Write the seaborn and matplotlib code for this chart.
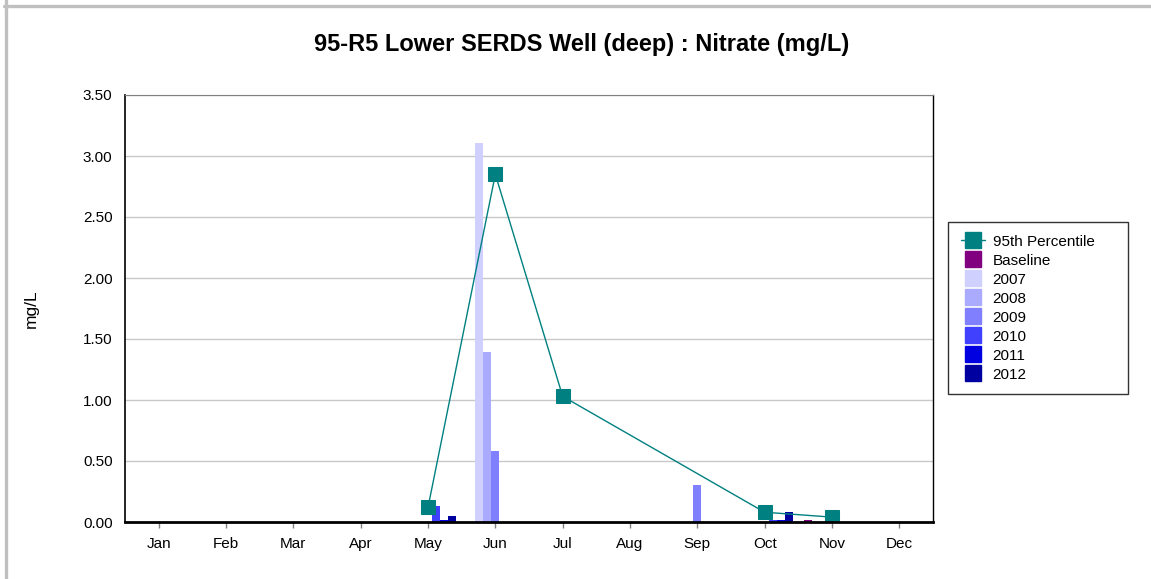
import matplotlib
matplotlib.use("Agg")
import matplotlib.pyplot as plt
from matplotlib.lines import Line2D
import seaborn as sns
import pandas as pd

# ---- data ----
months = ["Jan", "Feb", "Mar", "Apr", "May", "Jun", "Jul", "Aug", "Sep", "Oct", "Nov", "Dec"]
series = ["Baseline", "2007", "2008", "2009", "2010", "2011", "2012"]
series_colors = ["#800080", "#D0D0FF", "#AAAAFF", "#8080FF", "#4040FF", "#0000E0", "#0000A0"]

baseline_months = ["Nov"]
baseline_vals = [0.02]
y2007_months = ["Jun"]
y2007_vals = [3.11]
y2008_months = ["Jun"]
y2008_vals = [1.39]
y2009_months = ["Jun", "Sep"]
y2009_vals = [0.58, 0.30]
y2010_months = ["May", "Oct"]
y2010_vals = [0.13, 0.015]
y2011_months = ["May", "Oct"]
y2011_vals = [0.015, 0.015]
y2012_months = ["May", "Oct"]
y2012_vals = [0.05, 0.08]

p95_months = ["May", "Jun", "Jul", "Oct", "Nov"]
p95_vals = [0.12, 2.85, 1.03, 0.08, 0.04]

title = "95-R5 Lower SERDS Well (deep) : Nitrate (mg/L)"
ylabel = "mg/L"
yticks = [0.0, 0.5, 1.0, 1.5, 2.0, 2.5, 3.0, 3.5]

# ---- build table ----
rows = []
for name, ms, vs in [
    ("Baseline", baseline_months, baseline_vals),
    ("2007", y2007_months, y2007_vals),
    ("2008", y2008_months, y2008_vals),
    ("2009", y2009_months, y2009_vals),
    ("2010", y2010_months, y2010_vals),
    ("2011", y2011_months, y2011_vals),
    ("2012", y2012_months, y2012_vals),
]:
    for m, v in zip(ms, vs):
        rows.append({"month": m, "series": name, "value": v})
df = pd.DataFrame(rows)

sns.set_theme(style="white")
plt.rcParams["font.family"] = ["Liberation Sans", "DejaVu Sans"]
plt.rcParams["text.color"] = "black"
plt.rcParams["axes.labelcolor"] = "black"
plt.rcParams["xtick.color"] = "black"
plt.rcParams["ytick.color"] = "black"

fig = plt.figure(figsize=(11.51, 5.79), dpi=100)
ax = fig.add_axes([125 / 1151, 1 - 522 / 579, (933 - 125) / 1151, (522 - 95) / 579])

sns.barplot(
    data=df, x="month", y="value", hue="series",
    order=months, hue_order=series, palette=series_colors,
    width=0.83, dodge=True, saturation=1, errorbar=None,
    linewidth=0, legend=False, ax=ax, gap=0,
)

p95_pos = [months.index(m) for m in p95_months]
sns.lineplot(
    x=p95_pos, y=p95_vals, color="#008080", linewidth=1.0,
    marker="s", markersize=10, markeredgecolor="#008080",
    ax=ax, legend=False,
)

ax.set_xlim(-0.5, 11.5)
ax.set_ylim(0, 3.5)
ax.set_yticks(yticks)
ax.set_yticklabels([f"{t:.2f}" for t in yticks], fontsize=11, color="black")
ax.set_xticks(range(len(months)))
ax.set_xticklabels(months, fontsize=11, color="black")
ax.set_xlabel("")
ax.set_ylabel(ylabel, fontsize=12.5, color="black")
ax.yaxis.set_label_coords(-0.107, 0.5)

ax.yaxis.grid(True, color="#C8C8C8", linewidth=1)
ax.set_axisbelow(True)
ax.tick_params(axis="y", length=0, pad=9)
ax.tick_params(axis="x", length=4, width=1, color="#808080", pad=7, direction="out")
ax.xaxis.set_ticks_position("bottom")

for side, sp in ax.spines.items():
    sp.set_visible(True)
ax.spines["bottom"].set_color("black")
ax.spines["bottom"].set_linewidth(2)
ax.spines["left"].set_color("black")
ax.spines["left"].set_linewidth(1.2)
ax.spines["right"].set_color("black")
ax.spines["right"].set_linewidth(1)
ax.spines["top"].set_color("#808080")
ax.spines["top"].set_linewidth(0.8)

fig.text(0.505, 1 - 45 / 579, title, ha="center", va="center",
         fontsize=17, fontweight="bold", color="black")

# legend
handles = [Line2D([0], [0], color="#008080", lw=1, marker="s", markersize=11,
                  markeredgecolor="#008080", label="95th Percentile")]
for s, c in zip(series, series_colors):
    handles.append(Line2D([0], [0], linestyle="none", marker="s", markersize=11,
                          markerfacecolor=c, markeredgecolor=c, label=s))
leg = fig.legend(
    handles=handles, loc="upper left",
    bbox_to_anchor=(948 / 1151, 1 - 396 / 579, 180 / 1151, 174 / 579),
    mode="expand",
    frameon=True, fancybox=False, shadow=False, fontsize=11,
    labelspacing=0.33, handlelength=1.6, handletextpad=0.5,
    borderpad=0.82, borderaxespad=0,
)
leg.get_frame().set_edgecolor("black")
leg.get_frame().set_linewidth(1)
for t in leg.get_texts():
    t.set_color("black")

# outer frame lines
fig.add_artist(Line2D([4 / 1151, 1.0], [1 - 5.5 / 579, 1 - 5.5 / 579],
                      transform=fig.transFigure, color="#C0C0C0", lw=2.4))
fig.add_artist(Line2D([5.5 / 1151, 5.5 / 1151], [0, 1],
                      transform=fig.transFigure, color="#C0C0C0", lw=2.4))

fig.savefig("out.png", dpi=100, facecolor="white")
